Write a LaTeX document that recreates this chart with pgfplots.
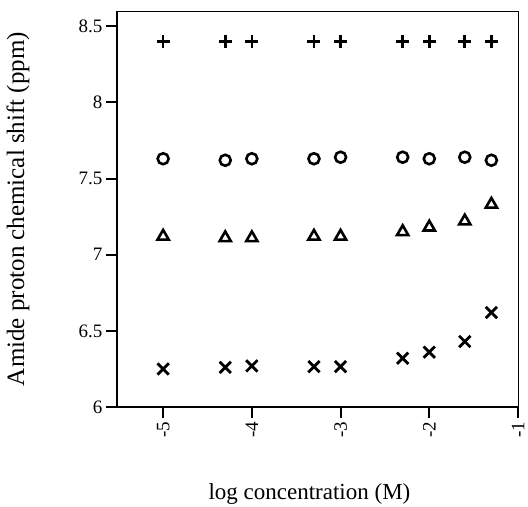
\documentclass[border=0pt]{standalone}
\usepackage{fontspec}
\setmainfont{Liberation Serif}
\usepackage{pgfplots}
\pgfplotsset{compat=1.18}

\begin{document}
\begin{tikzpicture}
\begin{axis}[
    name=a,
    scale only axis,
    width=401pt, height=396pt,
    xmin=-5.52, xmax=-1, ymin=6, ymax=8.6,
    xtick={-5,-4,-3,-2,-1},
    ytick={6,6.5,7,7.5,8,8.5},
    xticklabels={-5,-4,-3,-2,-1},
    yticklabels={6,6.5,7,7.5,8,8.5},
    xtick pos=bottom, ytick pos=left,
    tick align=outside,
    major tick length=11pt,
    tick style={line width=2pt, black},
    axis line style={line width=0.8pt},
    xticklabel style={rotate=90, anchor=east, font=\fontsize{19}{22}\selectfont},
    yticklabel style={font=\fontsize{19}{22}\selectfont},
    /pgf/number format/assume math mode=true,
    xlabel={log concentration (M)},
    ylabel={Amide proton chemical shift (ppm)},
    xlabel style={at={(axis description cs:0.48,-0.22)}, anchor=center, font=\fontsize{23}{28}\selectfont},
    ylabel style={at={(axis description cs:-0.247,0.5)}, anchor=center, font=\fontsize{25}{30}\selectfont},
    clip=false,
]
\draw[line width=2pt] (rel axis cs:0,1) -- (rel axis cs:0,0) -- (rel axis cs:1,0);
\draw[line width=2pt] (rel axis cs:-0.028,0) -- (rel axis cs:0,0);

% + series
\addplot[only marks, mark=+, mark size=6.5pt, line width=2.6pt] coordinates {
    (-5,8.40) (-4.3,8.40) (-4,8.40) (-3.3,8.40) (-3,8.40)
    (-2.3,8.40) (-2,8.40) (-1.6,8.40) (-1.3,8.40)};
% circles
\addplot[only marks, mark=o, mark size=5.5pt, line width=2.6pt] coordinates {
    (-5,7.63) (-4.3,7.62) (-4,7.63) (-3.3,7.63) (-3,7.64)
    (-2.3,7.64) (-2,7.63) (-1.6,7.64) (-1.3,7.62)};
% triangles
\addplot[only marks, mark=triangle, mark size=6.5pt, line width=2.6pt] coordinates {
    (-5,7.12) (-4.3,7.11) (-4,7.11) (-3.3,7.12) (-3,7.12)
    (-2.3,7.15) (-2,7.18) (-1.6,7.22) (-1.3,7.33)};
% crosses
\addplot[only marks, mark=x, mark size=8pt, line width=2.8pt] coordinates {
    (-5,6.25) (-4.3,6.26) (-4,6.27) (-3.3,6.265) (-3,6.265)
    (-2.3,6.32) (-2,6.36) (-1.6,6.43) (-1.3,6.62)};
\end{axis}
\pgfresetboundingbox
\path ([shift={(-117pt,-99pt)}]a.south west) rectangle ([shift={(10pt,11pt)}]a.north east);
\end{tikzpicture}
\end{document}
